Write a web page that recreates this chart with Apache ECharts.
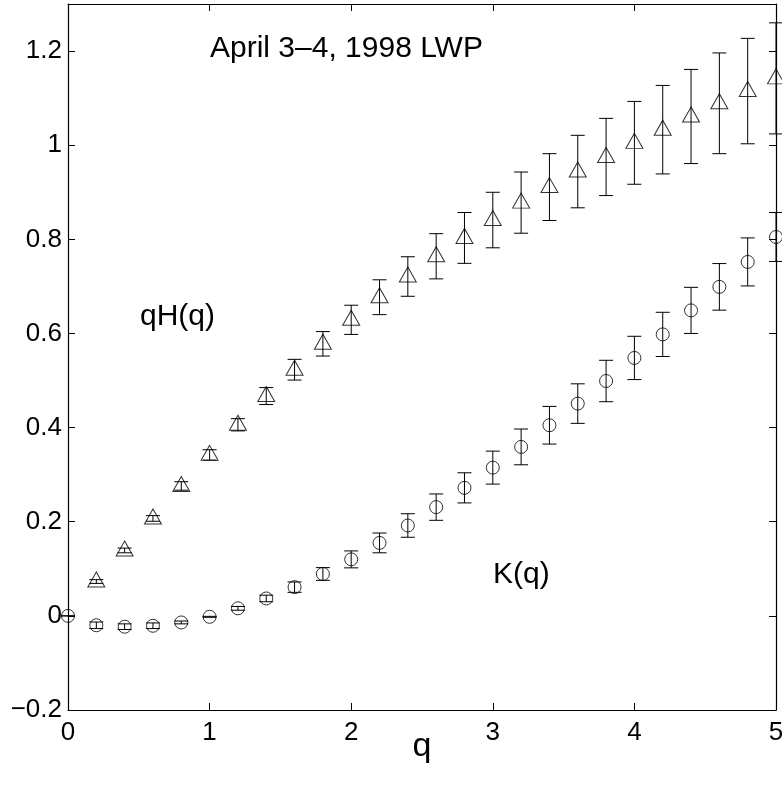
<!DOCTYPE html>
<html>
<head>
<meta charset="utf-8">
<script src="https://cdn.jsdelivr.net/npm/echarts@6/dist/echarts.min.js"></script>
<style>
  html, body { margin: 0; padding: 0; background: #fff; }
  #chart { width: 782px; height: 787px; }
</style>
</head>
<body>
<div id="chart"></div>
<script>
// q values
var qValues = [0, 0.2, 0.4, 0.6, 0.8, 1.0, 1.2, 1.4, 1.6, 1.8, 2.0, 2.2, 2.4,
               2.6, 2.8, 3.0, 3.2, 3.4, 3.6, 3.8, 4.0, 4.2, 4.4, 4.6, 4.8, 5.0];

// qH(q), triangles (no point at q = 0)
var qhValues = [null, 0.073, 0.139, 0.207, 0.276, 0.342, 0.406, 0.467, 0.523, 0.578, 0.629, 0.677, 0.721,
                0.764, 0.803, 0.841, 0.878, 0.911, 0.944, 0.975, 1.005, 1.033, 1.061, 1.089, 1.115, 1.142];
var qhErrors = [null, 0.004, 0.005, 0.006, 0.009, 0.011, 0.013, 0.018, 0.022, 0.026, 0.031, 0.037, 0.042,
                0.048, 0.054, 0.059, 0.065, 0.071, 0.077, 0.082, 0.088, 0.094, 0.100, 0.107, 0.112, 0.118];

// K(q), circles
var kValues = [0, -0.020, -0.023, -0.021, -0.014, -0.002, 0.016, 0.037, 0.061, 0.089, 0.120, 0.155, 0.192,
               0.231, 0.272, 0.315, 0.359, 0.405, 0.451, 0.499, 0.548, 0.598, 0.649, 0.699, 0.752, 0.805];
var kErrors = [0, 0.007, 0.006, 0.006, 0.003, 0.001, 0.004, 0.007, 0.011, 0.0135, 0.018, 0.021, 0.025,
               0.028, 0.032, 0.035, 0.038, 0.040, 0.042, 0.044, 0.046, 0.047, 0.049, 0.0495, 0.051, 0.052];

var yTicks = [-0.2, 0, 0.2, 0.4, 0.6, 0.8, 1, 1.2];

var FONT = '"Liberation Sans", Arial, Helvetica, sans-serif';

function build(vals, errs) {
    var pts = [], bars = [];
    for (var i = 0; i < qValues.length; i++) {
        if (vals[i] === null) continue;
        pts.push([qValues[i], vals[i]]);
        bars.push([qValues[i], vals[i], errs[i]]);
    }
    return {pts: pts, bars: bars};
}
var qh = build(qhValues, qhErrors);
var k = build(kValues, kErrors);

function errorBar(params, api) {
    var x = api.value(0), y = api.value(1), e = api.value(2);
    var top = api.coord([x, y + e]);
    var bot = api.coord([x, y - e]);
    var w = 7;
    var style = {stroke: '#000', lineWidth: 1};
    return {
        type: 'group',
        children: [
            {type: 'line', shape: {x1: top[0], y1: top[1], x2: bot[0], y2: bot[1]}, style: style},
            {type: 'line', shape: {x1: top[0] - w, y1: top[1], x2: top[0] + w, y2: top[1]}, style: style},
            {type: 'line', shape: {x1: bot[0] - w, y1: bot[1], x2: bot[0] + w, y2: bot[1]}, style: style}
        ]
    };
}

function yLabel(v) {
    var r = Math.round(v * 10) / 10;
    if (yTicks.indexOf(r) < 0) return '';
    var s = String(Math.abs(r));
    return r < 0 ? '\u2212' + s : s;
}

var axisLine = {show: true, onZero: false, lineStyle: {color: '#000', width: 1.2}};
var tick = {show: true, inside: true, length: 7, lineStyle: {color: '#000', width: 1}};

var chart = echarts.init(document.getElementById('chart'));
var option = {
    backgroundColor: '#fff',
    animation: false,
    grid: {left: 68, right: 6, top: 4, bottom: 77, containLabel: false, outerBoundsMode: 'none'},
    xAxis: [{
        type: 'value', min: 0, max: 5, interval: 1,
        axisLine: axisLine, axisTick: tick, splitLine: {show: false},
        axisLabel: {color: '#000', fontSize: 26, fontFamily: FONT, margin: 10},
        name: 'q', nameLocation: 'middle', nameGap: 20, nameMoveOverlap: false,
        nameTextStyle: {color: '#000', fontSize: 34, fontFamily: FONT}
    }, {
        type: 'value', min: 0, max: 5, interval: 1, position: 'top',
        axisLine: axisLine, axisTick: tick, splitLine: {show: false},
        axisLabel: {show: false}
    }],
    yAxis: [{
        type: 'value', min: -0.2, max: 1.3, interval: 0.2,
        axisLine: axisLine, axisTick: tick, splitLine: {show: false},
        axisLabel: {color: '#000', fontSize: 26, fontFamily: FONT, margin: 6, formatter: yLabel}
    }, {
        type: 'value', min: -0.2, max: 1.3, interval: 0.2, position: 'right',
        axisLine: axisLine, axisTick: tick, splitLine: {show: false},
        axisLabel: {show: false}
    }],
    graphic: [
        {type: 'text', left: 210, top: 34, style: {text: 'April 3\u20134, 1998 LWP', fill: '#000', font: '30px ' + FONT}},
        {type: 'text', left: 140, top: 302, style: {text: 'qH(q)', fill: '#000', font: '30px ' + FONT}},
        {type: 'text', left: 493, top: 560, style: {text: 'K(q)', fill: '#000', font: '30px ' + FONT}}
    ],
    series: [
        {type: 'custom', renderItem: errorBar, data: qh.bars, clip: false, z: 2},
        {type: 'custom', renderItem: errorBar, data: k.bars, clip: false, z: 2},
        {
            type: 'scatter', data: qh.pts, symbol: 'triangle', symbolSize: [17, 15], symbolOffset: [0, -2],
            clip: false, z: 3,
            itemStyle: {color: 'rgba(0,0,0,0)', borderColor: '#000', borderWidth: 1}
        },
        {
            type: 'scatter', data: k.pts, symbol: 'circle', symbolSize: 13,
            clip: false, z: 3,
            itemStyle: {color: 'rgba(0,0,0,0)', borderColor: '#000', borderWidth: 1}
        }
    ]
};
chart.setOption(option);
</script>
</body>
</html>
